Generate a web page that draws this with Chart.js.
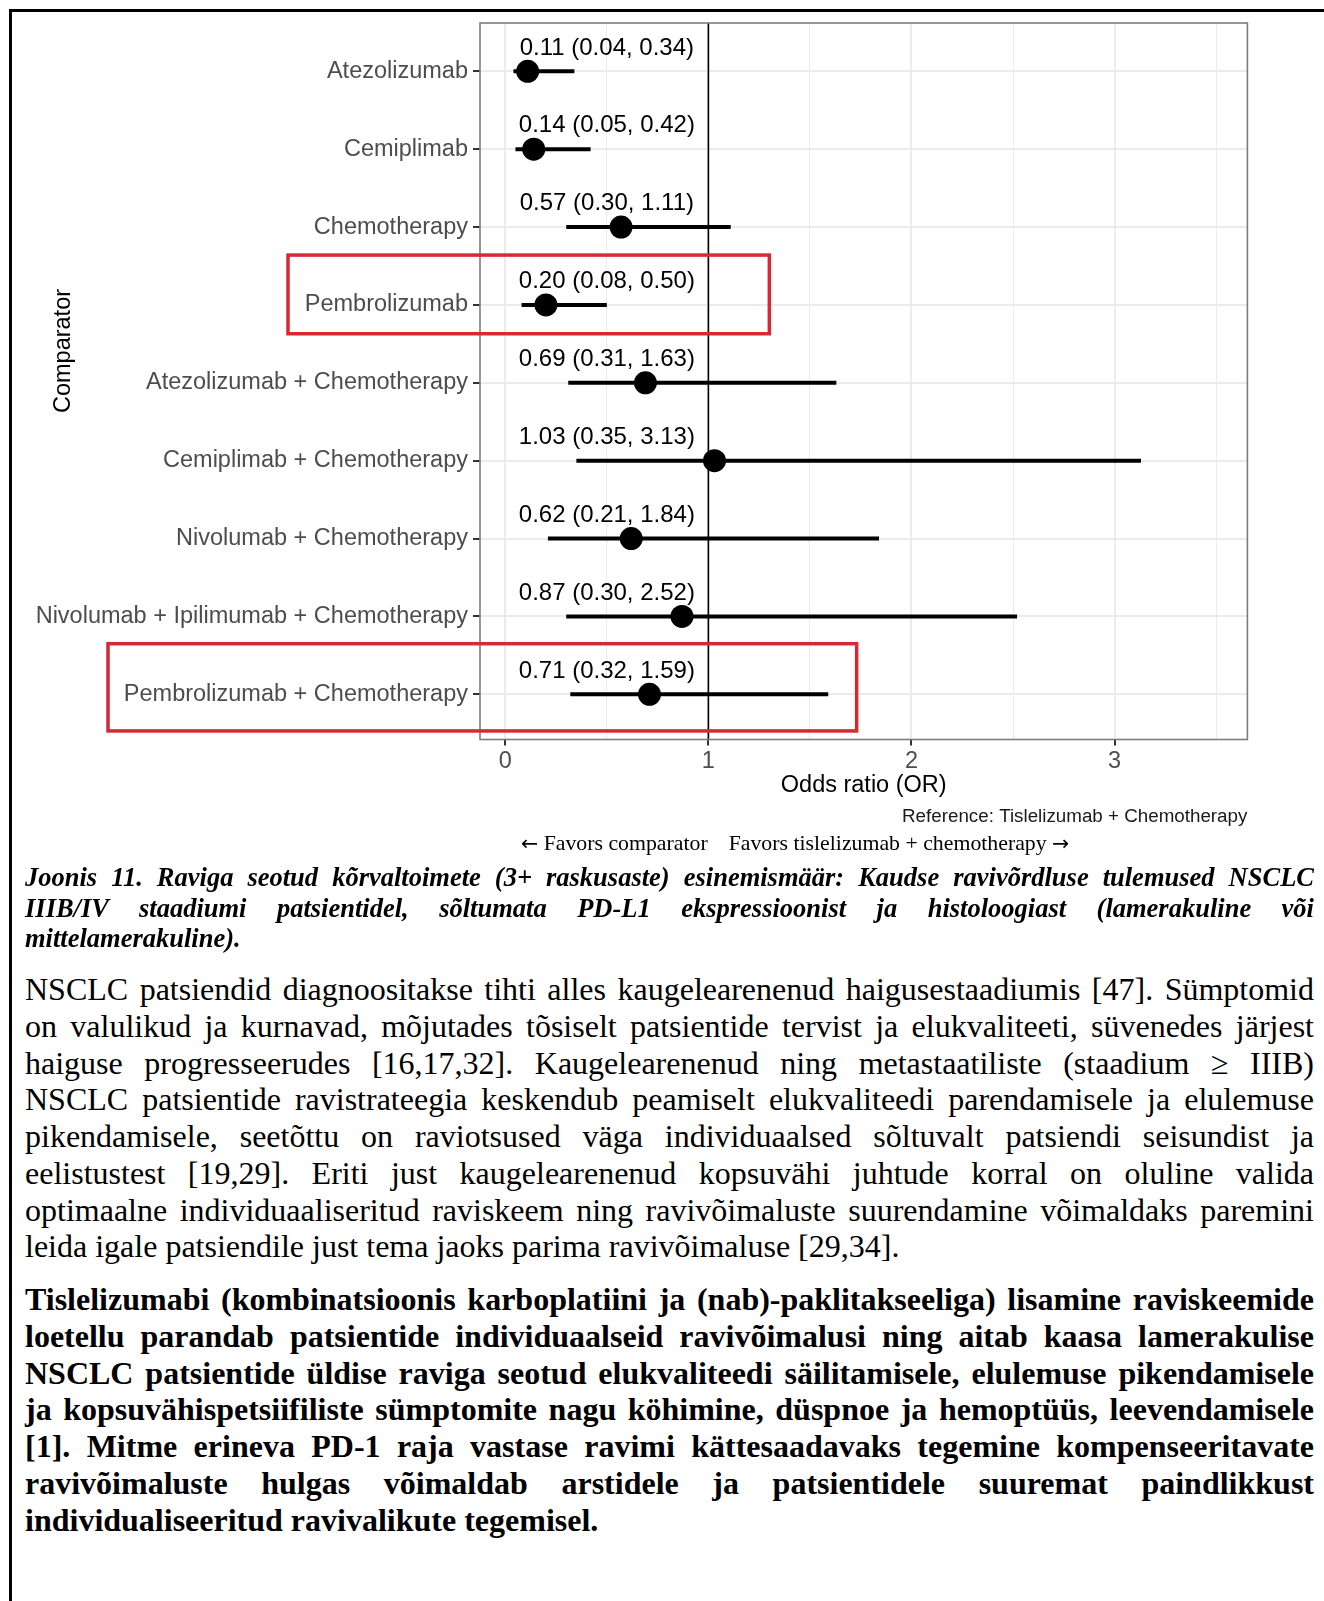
<!DOCTYPE html>
<html lang="et">
<head>
<meta charset="utf-8">
<title>Joonis 11</title>
<script src="https://cdn.jsdelivr.net/npm/chart.js@4/dist/chart.umd.min.js"></script>
<style>
  html, body { margin: 0; padding: 0; background: #fff; }
  body { width: 1324px; height: 1601px; position: relative; overflow: hidden; }
  #frame { position: absolute; left: 9px; top: 9px; width: 1400px; height: 1700px;
           border-left: 3px solid #000; border-top: 3px solid #000; }
  #plot { position: absolute; left: 0; top: 0; }
  .serif { font-family: "Liberation Serif", "Times New Roman", serif; color: #000; }
  #favors { position: absolute; left: 521px; top: 830px; font-size: 21.8px; line-height: 27px; white-space: nowrap; }
  #favors .part + .part { margin-left: 21px; }
  #favors .arrow { font-family: "DejaVu Sans", sans-serif; font-size: 20.5px; }
  .block { position: absolute; left: 25px; width: 1289px; }
  .line { white-space: nowrap; }
  #caption { top: 862px; font-size: 26.5px; line-height: 30.6px; font-weight: bold; font-style: italic; }
  #para1 { top: 971px; font-size: 32px; line-height: 36.75px; }
  #para2 { top: 1281px; font-size: 32px; line-height: 36.75px; font-weight: bold; }
</style>
</head>
<body>
<div id="frame"></div>
<canvas id="plot" width="1324" height="880"></canvas>
<div id="favors" class="serif"><span class="part"><span class="arrow">←</span> Favors comparator</span><span class="part">Favors tislelizumab + chemotherapy <span class="arrow">→</span></span></div>
<div id="caption" class="block serif"></div>
<div id="para1" class="block serif"></div>
<div id="para2" class="block serif"></div>
<script>
// Indirect treatment comparison: grade 3+ treatment-related adverse events,
// odds ratios versus tislelizumab + chemotherapy.
const comparators = [
  'Atezolizumab',
  'Cemiplimab',
  'Chemotherapy',
  'Pembrolizumab',
  'Atezolizumab + Chemotherapy',
  'Cemiplimab + Chemotherapy',
  'Nivolumab + Chemotherapy',
  'Nivolumab + Ipilimumab + Chemotherapy',
  'Pembrolizumab + Chemotherapy'
];
const oddsRatio = [0.11, 0.14, 0.57, 0.20, 0.69, 1.03, 0.62, 0.87, 0.71];
const ciLower   = [0.04, 0.05, 0.30, 0.08, 0.31, 0.35, 0.21, 0.30, 0.32];
const ciUpper   = [0.34, 0.42, 1.11, 0.50, 1.63, 3.13, 1.84, 2.52, 1.59];
const xTickValues = [0, 1, 2, 3];
const xGridValues = [0, 0.5, 1, 1.5, 2, 2.5, 3, 3.5];
const highlighted = ['Pembrolizumab', 'Pembrolizumab + Chemotherapy'];
const referenceArm = 'Tislelizumab + Chemotherapy';

const captionLines = [
  'Joonis 11. Raviga seotud kõrvaltoimete (3+ raskusaste) esinemismäär: Kaudse ravivõrdluse tulemused NSCLC',
  'IIIB/IV staadiumi patsientidel, sõltumata PD-L1 ekspressioonist ja histoloogiast (lamerakuline või',
  'mittelamerakuline).'
];
const para1Lines = [
  'NSCLC patsiendid diagnoositakse tihti alles kaugelearenenud haigusestaadiumis [47]. Sümptomid',
  'on valulikud ja kurnavad, mõjutades tõsiselt patsientide tervist ja elukvaliteeti, süvenedes järjest',
  'haiguse progresseerudes [16,17,32]. Kaugelearenenud ning metastaatiliste (staadium ≥ IIIB)',
  'NSCLC patsientide ravistrateegia keskendub peamiselt elukvaliteedi parendamisele ja elulemuse',
  'pikendamisele, seetõttu on raviotsused väga individuaalsed sõltuvalt patsiendi seisundist ja',
  'eelistustest [19,29]. Eriti just kaugelearenenud kopsuvähi juhtude korral on oluline valida',
  'optimaalne individuaaliseritud raviskeem ning ravivõimaluste suurendamine võimaldaks paremini',
  'leida igale patsiendile just tema jaoks parima ravivõimaluse [29,34].'
];
const para2Lines = [
  'Tislelizumabi (kombinatsioonis karboplatiini ja (nab)-paklitakseeliga) lisamine raviskeemide',
  'loetellu parandab patsientide individuaalseid ravivõimalusi ning aitab kaasa lamerakulise',
  'NSCLC patsientide üldise raviga seotud elukvaliteedi säilitamisele, elulemuse pikendamisele',
  'ja kopsuvähispetsiifiliste sümptomite nagu köhimine, düspnoe ja hemoptüüs, leevendamisele',
  '[1]. Mitme erineva PD-1 raja vastase ravimi kättesaadavaks tegemine kompenseeritavate',
  'ravivõimaluste hulgas võimaldab arstidele ja patsientidele suuremat paindlikkust',
  'individualiseeritud ravivalikute tegemisel.'
];

const SANS = '"Liberation Sans", Arial, Helvetica, sans-serif';
const fmt = v => v.toFixed(2);

// Error bars, reference line, panel border, value labels and highlight boxes.
const forestPlugin = {
  id: 'forest',
  beforeDatasetsDraw(chart) {
    const { ctx, chartArea: a, scales: { x, y } } = chart;
    ctx.save();
    // line of no difference
    ctx.strokeStyle = '#000';
    ctx.lineWidth = 1.6;
    ctx.beginPath();
    ctx.moveTo(x.getPixelForValue(1), a.top);
    ctx.lineTo(x.getPixelForValue(1), a.bottom);
    ctx.stroke();
    // confidence intervals
    ctx.lineWidth = 4;
    ctx.lineCap = 'butt';
    comparators.forEach((c, i) => {
      const py = y.getPixelForValue(i + 1);
      ctx.beginPath();
      ctx.moveTo(x.getPixelForValue(ciLower[i]), py);
      ctx.lineTo(x.getPixelForValue(ciUpper[i]), py);
      ctx.stroke();
    });
    ctx.restore();
  },
  afterDatasetsDraw(chart) {
    const { ctx, chartArea: a, scales: { x, y } } = chart;
    ctx.save();
    ctx.strokeStyle = '#7d7d7d';
    ctx.lineWidth = 1.6;
    ctx.strokeRect(a.left, a.top, a.right - a.left, a.bottom - a.top);
    // estimate labels above each interval
    ctx.fillStyle = '#000';
    ctx.font = '24px ' + SANS;
    ctx.textAlign = 'center';
    ctx.textBaseline = 'middle';
    comparators.forEach((c, i) => {
      const label = fmt(oddsRatio[i]) + ' (' + fmt(ciLower[i]) + ', ' + fmt(ciUpper[i]) + ')';
      ctx.fillText(label, x.getPixelForValue(0.5), y.getPixelForValue(i + 1 - 0.3));
    });
    ctx.restore();
  },
  afterDraw(chart) {
    const { ctx, chartArea: a, scales: { x, y } } = chart;
    ctx.save();
    // y axis title
    ctx.fillStyle = '#000';
    ctx.font = '23.5px ' + SANS;
    ctx.textAlign = 'center';
    ctx.textBaseline = 'middle';
    ctx.translate(64, 351);
    ctx.rotate(-Math.PI / 2);
    ctx.fillText('Comparator', 0, 0);
    ctx.restore();

    ctx.save();
    ctx.fillStyle = '#1a1a1a';
    ctx.font = '18.8px ' + SANS;
    ctx.textAlign = 'right';
    ctx.textBaseline = 'middle';
    ctx.fillText('Reference: ' + referenceArm, a.right, 817);
    ctx.restore();

    // highlight boxes around selected comparators
    const boxes = [
      { row: comparators.indexOf(highlighted[0]), left: 288, right: 1.3, up: 0.64, down: 0.37 },
      { row: comparators.indexOf(highlighted[1]), left: 108, right: 1.73, up: 0.65, down: 0.47 }
    ];
    ctx.save();
    ctx.strokeStyle = '#d42a33';
    ctx.lineWidth = 3.5;
    boxes.forEach(b => {
      const top = y.getPixelForValue(b.row + 1 - b.up);
      const bottom = y.getPixelForValue(b.row + 1 + b.down);
      const right = x.getPixelForValue(b.right);
      ctx.strokeRect(b.left, top, right - b.left, bottom - top);
    });
    ctx.restore();
  }
};

new Chart(document.getElementById('plot'), {
  type: 'scatter',
  data: {
    datasets: [{
      data: comparators.map((c, i) => ({ x: oddsRatio[i], y: i + 1 })),
      pointRadius: 11.5,
      pointHoverRadius: 11.5,
      pointBackgroundColor: '#000',
      pointBorderWidth: 0
    }]
  },
  options: {
    responsive: false,
    animation: false,
    events: [],
    layout: { padding: { left: 0, right: 76.6, top: 23, bottom: 80.5 } },
    plugins: { legend: { display: false }, tooltip: { enabled: false } },
    scales: {
      x: {
        type: 'linear',
        min: -0.1246,
        max: 3.654,
        afterBuildTicks: s => { s.ticks = xGridValues.map(v => ({ value: v })); },
        afterFit: s => { s.height = 60; },
        border: { display: false },
        grid: {
          color: '#ebebeb',
          lineWidth: c => (c.tick && xTickValues.includes(c.tick.value)) ? 2 : 1,
          drawTicks: true,
          tickLength: 6,
          tickWidth: 2,
          tickColor: c => (c.tick && xTickValues.includes(c.tick.value)) ? '#333' : 'rgba(0,0,0,0)'
        },
        ticks: {
          autoSkip: false,
          maxRotation: 0,
          padding: 2,
          color: '#4d4d4d',
          font: { family: SANS, size: 23.5 },
          callback: v => xTickValues.includes(v) ? String(v) : ''
        },
        title: {
          display: true,
          text: 'Odds ratio (OR)',
          color: '#000',
          font: { family: SANS, size: 23.5 },
          padding: { top: 0, bottom: 0 }
        }
      },
      y: {
        type: 'linear',
        reverse: true,
        min: 0.38,
        max: comparators.length + 0.58,
        afterBuildTicks: s => { s.ticks = comparators.map((c, i) => ({ value: i + 1 })); },
        afterFit: s => { s.width = 480; },
        border: { display: false },
        grid: {
          color: '#ebebeb',
          lineWidth: 2,
          drawTicks: true,
          tickLength: 7,
          tickWidth: 2,
          tickColor: '#333'
        },
        ticks: {
          autoSkip: false,
          padding: 5,
          color: '#4d4d4d',
          font: { family: SANS, size: 23.5 },
          callback: v => comparators[v - 1]
        }
      }
    }
  },
  plugins: [forestPlugin]
});

// Text blocks: fixed line breaks, justified like the source document.
function fillBlock(id, lines) {
  const block = document.getElementById(id);
  const width = block.clientWidth;
  lines.forEach((text, i) => {
    const div = document.createElement('div');
    div.className = 'line';
    const span = document.createElement('span');
    span.textContent = text;
    div.appendChild(span);
    block.appendChild(div);
    if (i < lines.length - 1) {
      const natural = span.getBoundingClientRect().width;
      const gaps = (text.match(/ /g) || []).length;
      if (gaps > 0) div.style.wordSpacing = ((width - natural) / gaps) + 'px';
    }
  });
}
fillBlock('caption', captionLines);
fillBlock('para1', para1Lines);
fillBlock('para2', para2Lines);
</script>
</body>
</html>
